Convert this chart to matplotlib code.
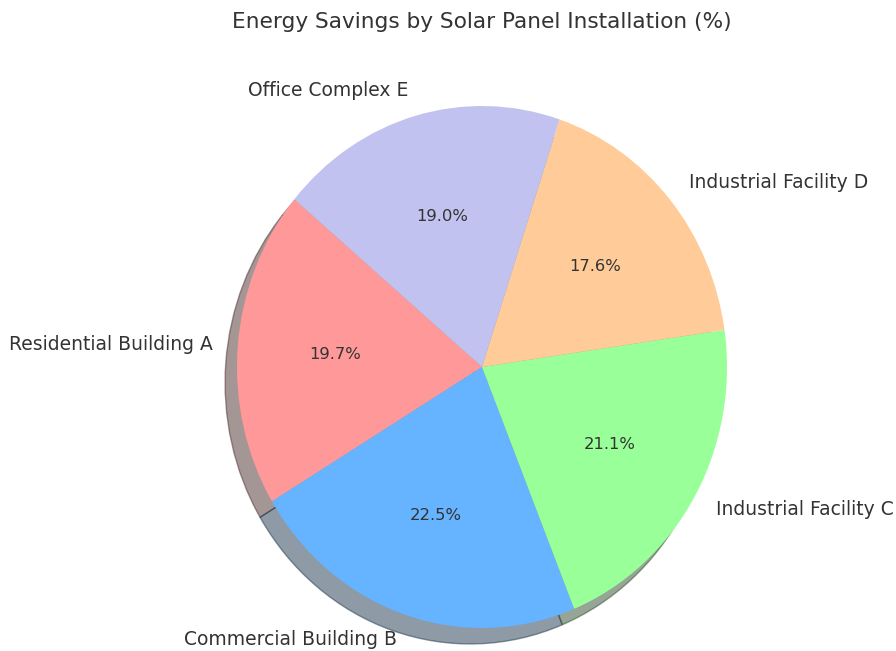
import matplotlib
matplotlib.use("Agg")
import matplotlib.pyplot as plt

labels = ["Residential Building A", "Commercial Building B", "Industrial Facility C",
          "Industrial Facility D", "Office Complex E"]
values = [14, 16, 15, 12.5, 13.5]
colors = ["#ff9999", "#66b3ff", "#99ff99", "#ffcc99", "#c2c2f0"]

W, H = 896, 651
fig = plt.figure(figsize=(W / 100, H / 100), dpi=100)

cx, cy, rx, ry = 482, 367, 245, 261
aw, ah = 2.5 * rx, 2.5 * ry
ax = fig.add_axes([(cx - aw / 2) / W, (H - (cy + ah / 2)) / H, aw / W, ah / H])

wedges, texts, autotexts = ax.pie(
    values, labels=labels, colors=colors, autopct="%1.1f%%", startangle=140,
    shadow={"ox": -0.035, "oy": -0.044},
    textprops={"color": "#333333", "fontsize": 13.5},
)
for t in autotexts:
    t.set_fontsize(11.8)
ax.set_aspect("auto")
ax.set_xlim(-1.25, 1.25)
ax.set_ylim(-1.25, 1.25)

fig.text(cx / W, 1 - 22 / H, "Energy Savings by Solar Panel Installation (%)",
         ha="center", va="center", fontsize=15.6, color="#333333")

fig.savefig("out.png", dpi=100)
